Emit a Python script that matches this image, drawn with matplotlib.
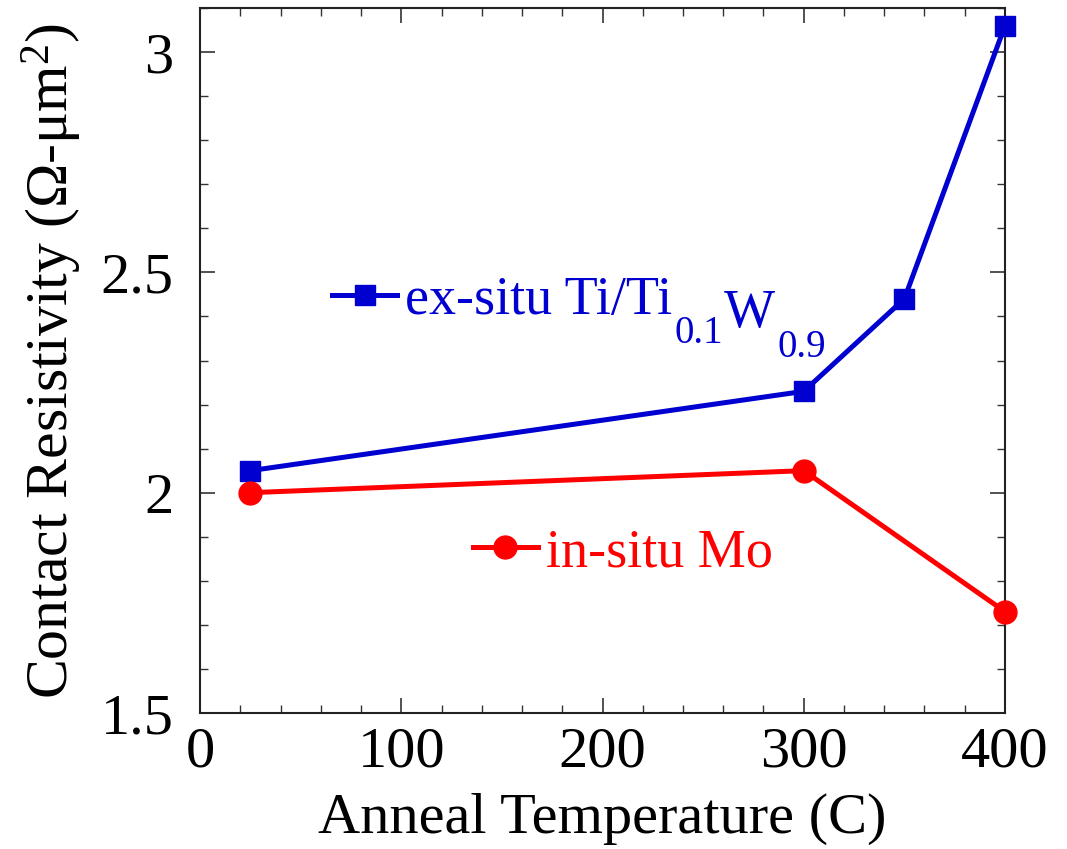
import matplotlib
matplotlib.use("Agg")
import matplotlib.pyplot as plt
from matplotlib.lines import Line2D

plt.rcParams['font.family'] = ['Liberation Serif', 'DejaVu Serif']
plt.rcParams['mathtext.fontset'] = 'custom'
plt.rcParams['mathtext.rm'] = 'Liberation Serif'
plt.rcParams['mathtext.it'] = 'Liberation Serif:italic'

# Anneal temperature (C) and contact resistivity (ohm-um^2)
temp_exsitu = [25, 300, 350, 400]
rho_exsitu = [2.05, 2.23, 2.44, 3.06]
temp_insitu = [25, 300, 400]
rho_insitu = [2.00, 2.05, 1.73]

# legend label for the ex-situ stack: main text followed by (text, is_subscript) pieces
label_exsitu = "ex-situ Ti/Ti"
label_exsitu_tail = [("0.1", True), ("W", False), ("0.9", True)]
label_insitu = "in-situ Mo"

x_ticks = [0, 100, 200, 300, 400]
y_ticks = [1.5, 2.0, 2.5, 3.0]
y_ticklabels = ["1.5", "2", "2.5", "3"]

blue = "#0000D0"
red = "#FF0000"

fig = plt.figure(figsize=(10.67, 8.49), dpi=100)
ax = fig.add_axes([200 / 1067, 1 - 713 / 849, 805 / 1067, 705 / 849])

ax.plot(temp_exsitu, rho_exsitu, color=blue, lw=3.6, marker='s', ms=14.5,
        clip_on=False, zorder=3)
ax.plot(temp_insitu, rho_insitu, color=red, lw=3.6, marker='o', ms=16.5,
        clip_on=False, zorder=3)

ax.set_xlim(0, 400)
ax.set_ylim(1.5, 3.1)
ax.set_xticks(x_ticks)
ax.set_xticks(range(0, 401, 20), minor=True)
ax.set_yticks(y_ticks)
ax.set_yticklabels(y_ticklabels)
ax.set_yticks([1.5 + 0.1 * i for i in range(17)], minor=True)

ax.tick_params(which='both', direction='in', top=True, right=True,
               color='#333333', labelsize=42)
ax.tick_params(which='major', length=11, width=1.2)
ax.tick_params(axis='x', which='major', pad=10)
ax.tick_params(axis='y', which='major', pad=19)
ax.tick_params(which='minor', length=6, width=1.0)
for s in ax.spines.values():
    s.set_linewidth(1.5)
    s.set_color('#222222')

ax.set_xlabel("Anneal Temperature (C)", fontsize=42, labelpad=10)
ax.set_ylabel("Contact Resistivity (Ω-μm$^{\\mathrm{2}}$)", fontsize=43, labelpad=12)

h1 = Line2D([], [], color=blue, lw=3.6, marker='s', ms=14.5)
h2 = Line2D([], [], color=red, lw=3.6, marker='o', ms=16.5)

leg1 = ax.legend([h1], [label_exsitu], loc='center left',
                 bbox_to_anchor=(0.164, 0.585), frameon=False, fontsize=39,
                 handlelength=1.2, handletextpad=0.15, borderpad=0,
                 borderaxespad=0, labelcolor=blue)
ax.add_artist(leg1)

# chemical formula continues after the legend text, subscripts set lower;
# drawn after the legend so the anchor text already has its final position
prev = leg1.get_texts()[0]
z = 10
for piece, is_sub in label_exsitu_tail:
    if is_sub:
        prev = ax.annotate(piece, xy=(1, 0), xycoords=prev, xytext=(1.5, -19),
                           textcoords='offset points', ha='left', va='bottom',
                           fontsize=28, color=blue, zorder=z)
    else:
        prev = ax.annotate(piece, xy=(1, 1), xycoords=prev, xytext=(1.0, 19),
                           textcoords='offset points', ha='left', va='top',
                           fontsize=39, color=blue, zorder=z)
    z += 1

ax.legend([h2], [label_insitu], loc='center left',
          bbox_to_anchor=(0.339, 0.227), frameon=False, fontsize=39,
          handlelength=1.2, handletextpad=0.15, borderpad=0,
          borderaxespad=0, labelcolor=red)

fig.savefig("out.png", dpi=100)
